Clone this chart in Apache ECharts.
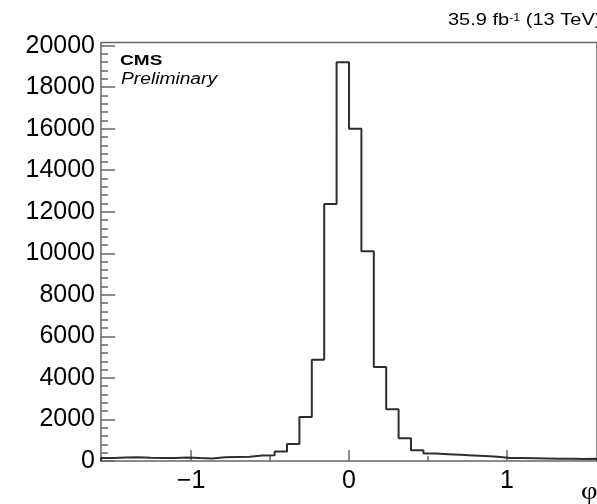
<!DOCTYPE html>
<html>
<head>
<meta charset="utf-8">
<title>phi distribution</title>
<script src="https://cdn.jsdelivr.net/npm/echarts@6/dist/echarts.min.js"></script>
<style>
  html, body { margin: 0; padding: 0; background: #fff; }
  #chart { width: 597px; height: 504px; }
</style>
</head>
<body>
<div id="chart"></div>
<script>
// Histogram range and binning: 40 equal bins over [-pi/2, pi/2]
const X_MIN = -Math.PI / 2;
const X_MAX = Math.PI / 2;
const N_BINS = 40;

// Entries per bin, left to right
const counts = [
  150, 170, 180, 160, 150, 150, 170, 140, 120, 180,
  190, 200, 270, 280, 460, 820, 2120, 4880, 12370, 19200,
  16000, 10100, 4520, 2490, 1100, 520, 360, 330, 300, 270,
  240, 200, 150, 140, 130, 120, 110, 110, 100, 110
];

// Axis tick values
const xMajorTicks = [-1, 0, 1];
const xMinorTicks = [-0.5, 0.5];
const yMajorTicks = [0, 2000, 4000, 6000, 8000, 10000, 12000, 14000, 16000, 18000, 20000];
const Y_MINOR_STEP = 400;
const Y_MAX = 20150;

// Text annotations
const experimentLabel = 'CMS';
const statusLabel = 'Preliminary';
const axisTitleX = 'φ\'';

// Bin edges and the outline of the histogram (step drawn by the line series)
const binWidth = (X_MAX - X_MIN) / N_BINS;
const outline = [[X_MIN, 0]];
counts.forEach((c, i) => outline.push([X_MIN + i * binWidth, c]));
outline.push([X_MAX, counts[counts.length - 1]]);
outline.push([X_MAX, 0]);

const yMinorTicks = [];
for (let v = 0; v <= 20000; v += Y_MINOR_STEP) {
  if (v % 2000 !== 0) yMinorTicks.push(v);
}

const FRAME = '#666';
const FONT = '"Liberation Sans", Arial, sans-serif';

const fmtX = v => (v < 0 ? '\u2212' + (-v) : String(v));
const fmtY = v => String(v);

const chart = echarts.init(document.getElementById('chart'), null, { renderer: 'canvas' });

chart.setOption({
  animation: false,
  backgroundColor: '#fff',
  grid: {
    left: 101, right: -2, top: 42.5, bottom: 43,
    show: true, borderColor: FRAME, borderWidth: 1.5, backgroundColor: 'transparent'
  },
  xAxis: [
    {
      type: 'value', min: X_MIN, max: X_MAX, position: 'bottom',
      axisLine: { show: false, onZero: false },
      splitLine: { show: false },
      axisTick: { show: true, inside: true, length: 11, customValues: xMajorTicks,
                  lineStyle: { color: FRAME, width: 1.5 } },
      axisLabel: { show: true, customValues: xMajorTicks, formatter: fmtX,
                   fontSize: 25, fontFamily: FONT, color: '#000', margin: 8 }
    },
    {
      type: 'value', min: X_MIN, max: X_MAX, position: 'bottom',
      axisLine: { show: false, onZero: false },
      splitLine: { show: false },
      axisLabel: { show: false },
      axisTick: { show: true, inside: true, length: 5, customValues: xMinorTicks,
                  lineStyle: { color: FRAME, width: 1.5 } }
    }
  ],
  yAxis: [
    {
      type: 'value', min: 0, max: Y_MAX, position: 'left',
      axisLine: { show: false, onZero: false },
      splitLine: { show: false },
      axisTick: { show: true, inside: true, length: 14, customValues: yMajorTicks,
                  lineStyle: { color: FRAME, width: 1.5 } },
      axisLabel: { show: true, customValues: yMajorTicks, formatter: fmtY,
                   fontSize: 25, fontFamily: FONT, color: '#000', margin: 6 }
    },
    {
      type: 'value', min: 0, max: Y_MAX, position: 'left',
      axisLine: { show: false, onZero: false },
      splitLine: { show: false },
      axisLabel: { show: false },
      axisTick: { show: true, inside: true, length: 7, customValues: yMinorTicks,
                  lineStyle: { color: FRAME, width: 1.5 } }
    }
  ],
  series: [
    {
      type: 'line',
      xAxisIndex: 0, yAxisIndex: 0,
      data: outline,
      step: 'end',
      symbol: 'none',
      lineStyle: { color: '#2e2e2e', width: 2 },
      clip: true
    }
  ],
  graphic: [
    {
      type: 'text', x: 120, y: 61, scaleX: 1.27,
      style: { text: experimentLabel, font: 'bold 15px ' + FONT, fill: '#000',
               textAlign: 'left', textVerticalAlign: 'middle' }
    },
    {
      type: 'text', x: 121, y: 79.5, scaleX: 1.2,
      style: { text: statusLabel, font: 'italic 16px ' + FONT, fill: '#000',
               textAlign: 'left', textVerticalAlign: 'middle' }
    },
    {
      type: 'text', x: 448, y: 21, scaleX: 1.25,
      style: {
        text: '35.9 fb{sup|-1} (13 TeV)',
        font: '16px ' + FONT, fill: '#000',
        textAlign: 'left', textVerticalAlign: 'middle',
        rich: { sup: { fontSize: 10, fontFamily: FONT, verticalAlign: 'top', lineHeight: 16, fill: '#000' } }
      }
    },
    {
      type: 'text', x: 581, y: 492, scaleX: 1.15,
      style: { text: axisTitleX, font: '25px "Liberation Serif", serif', fill: '#000',
               textAlign: 'left', textVerticalAlign: 'middle' }
    }
  ]
});
</script>
</body>
</html>
